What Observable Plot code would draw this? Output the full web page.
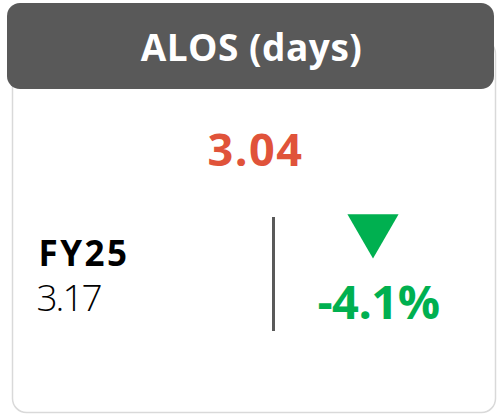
<!DOCTYPE html>
<html>
<head>
<meta charset="utf-8">
<script src="https://cdn.jsdelivr.net/npm/d3@7"></script>
<script src="https://cdn.jsdelivr.net/npm/@observablehq/plot@0.6"></script>
<style>
  html, body { margin: 0; padding: 0; background: #fff; }
  #chart svg { display: block; }
</style>
</head>
<body>
<div id="chart"></div>
<script>
// ---- data ----
const title = ["ALOS (days)"];
const currentValue = [3.04];
const compareLabel = ["FY25"];
const compareValue = [3.17];
const changePct = [-4.1];

// ---- layout (pixel space) ----
const W = 498, H = 414;
const font = "Open Sans, sans-serif";
const fmt2 = d3.format(".2f");
const fmtPct = d => d3.format(".1f")(d).replace("\u2212", "-") + "%";

const chart = Plot.plot({
  width: W,
  height: H,
  margin: 0,
  x: {domain: [0, W], axis: null},
  y: {domain: [0, H], range: [0, H], axis: null},
  style: {background: "#fff"},
  marks: [
    // card body
    Plot.rect([0], {x1: 12.5, x2: 495.5, y1: 40, y2: 412.5, rx: 14, fill: "#fff", stroke: "#d9d9d9", strokeWidth: 1.5}),
    // header
    Plot.rect(title, {x1: 7, x2: 494, y1: 3, y2: 89, rx: 13, fill: "#595959"}),
    Plot.text(title, {x: 251, y: 60, lineAnchor: "bottom", text: d => d, fill: "#fff", fontSize: 37, fontWeight: 700, fontFamily: font}),
    // current value
    Plot.text(currentValue, {x: 255, y: 165, lineAnchor: "bottom", text: d => fmt2(d), fill: "#E0533A", fontSize: 45, fontWeight: 700, fontFamily: font}),
    // comparison
    Plot.text(compareLabel, {x: 38, y: 265, lineAnchor: "bottom", text: d => d, textAnchor: "start", fill: "#000", fontSize: 35, fontWeight: 700, fontFamily: font}),
    Plot.text(compareValue, {x: 36, y: 310, lineAnchor: "bottom", text: d => fmt2(d), textAnchor: "start", fill: "#000", fontSize: 37, fontWeight: 300, fontFamily: font}),
    // divider
    Plot.ruleX([0], {x: 273, y1: 217, y2: 331, stroke: "#595959", strokeWidth: 3}),
    // change indicator
    Plot.dot(changePct, {x: 372.5, y: 228.5, symbol: "triangle", rotate: d => d < 0 ? 180 : 0, r: 19, fill: "#00B050", stroke: "none"}),
    Plot.text(changePct, {x: 378, y: 318, lineAnchor: "bottom", text: d => fmtPct(d), fill: "#00B050", fontSize: 47, fontWeight: 700, fontFamily: font})
  ]
});

// letter spacing per text mark, in mark order (title, current, label, value, change)
const spacing = ["0.5px", "1.5px", "2.5px", "-2px", "-0.5px"];
d3.select(chart).selectAll('g[aria-label="text"]').each(function (_, i) {
  d3.select(this).selectAll("text").style("letter-spacing", spacing[i] || "0px");
});
document.getElementById("chart").appendChild(chart);
</script>
</body>
</html>
